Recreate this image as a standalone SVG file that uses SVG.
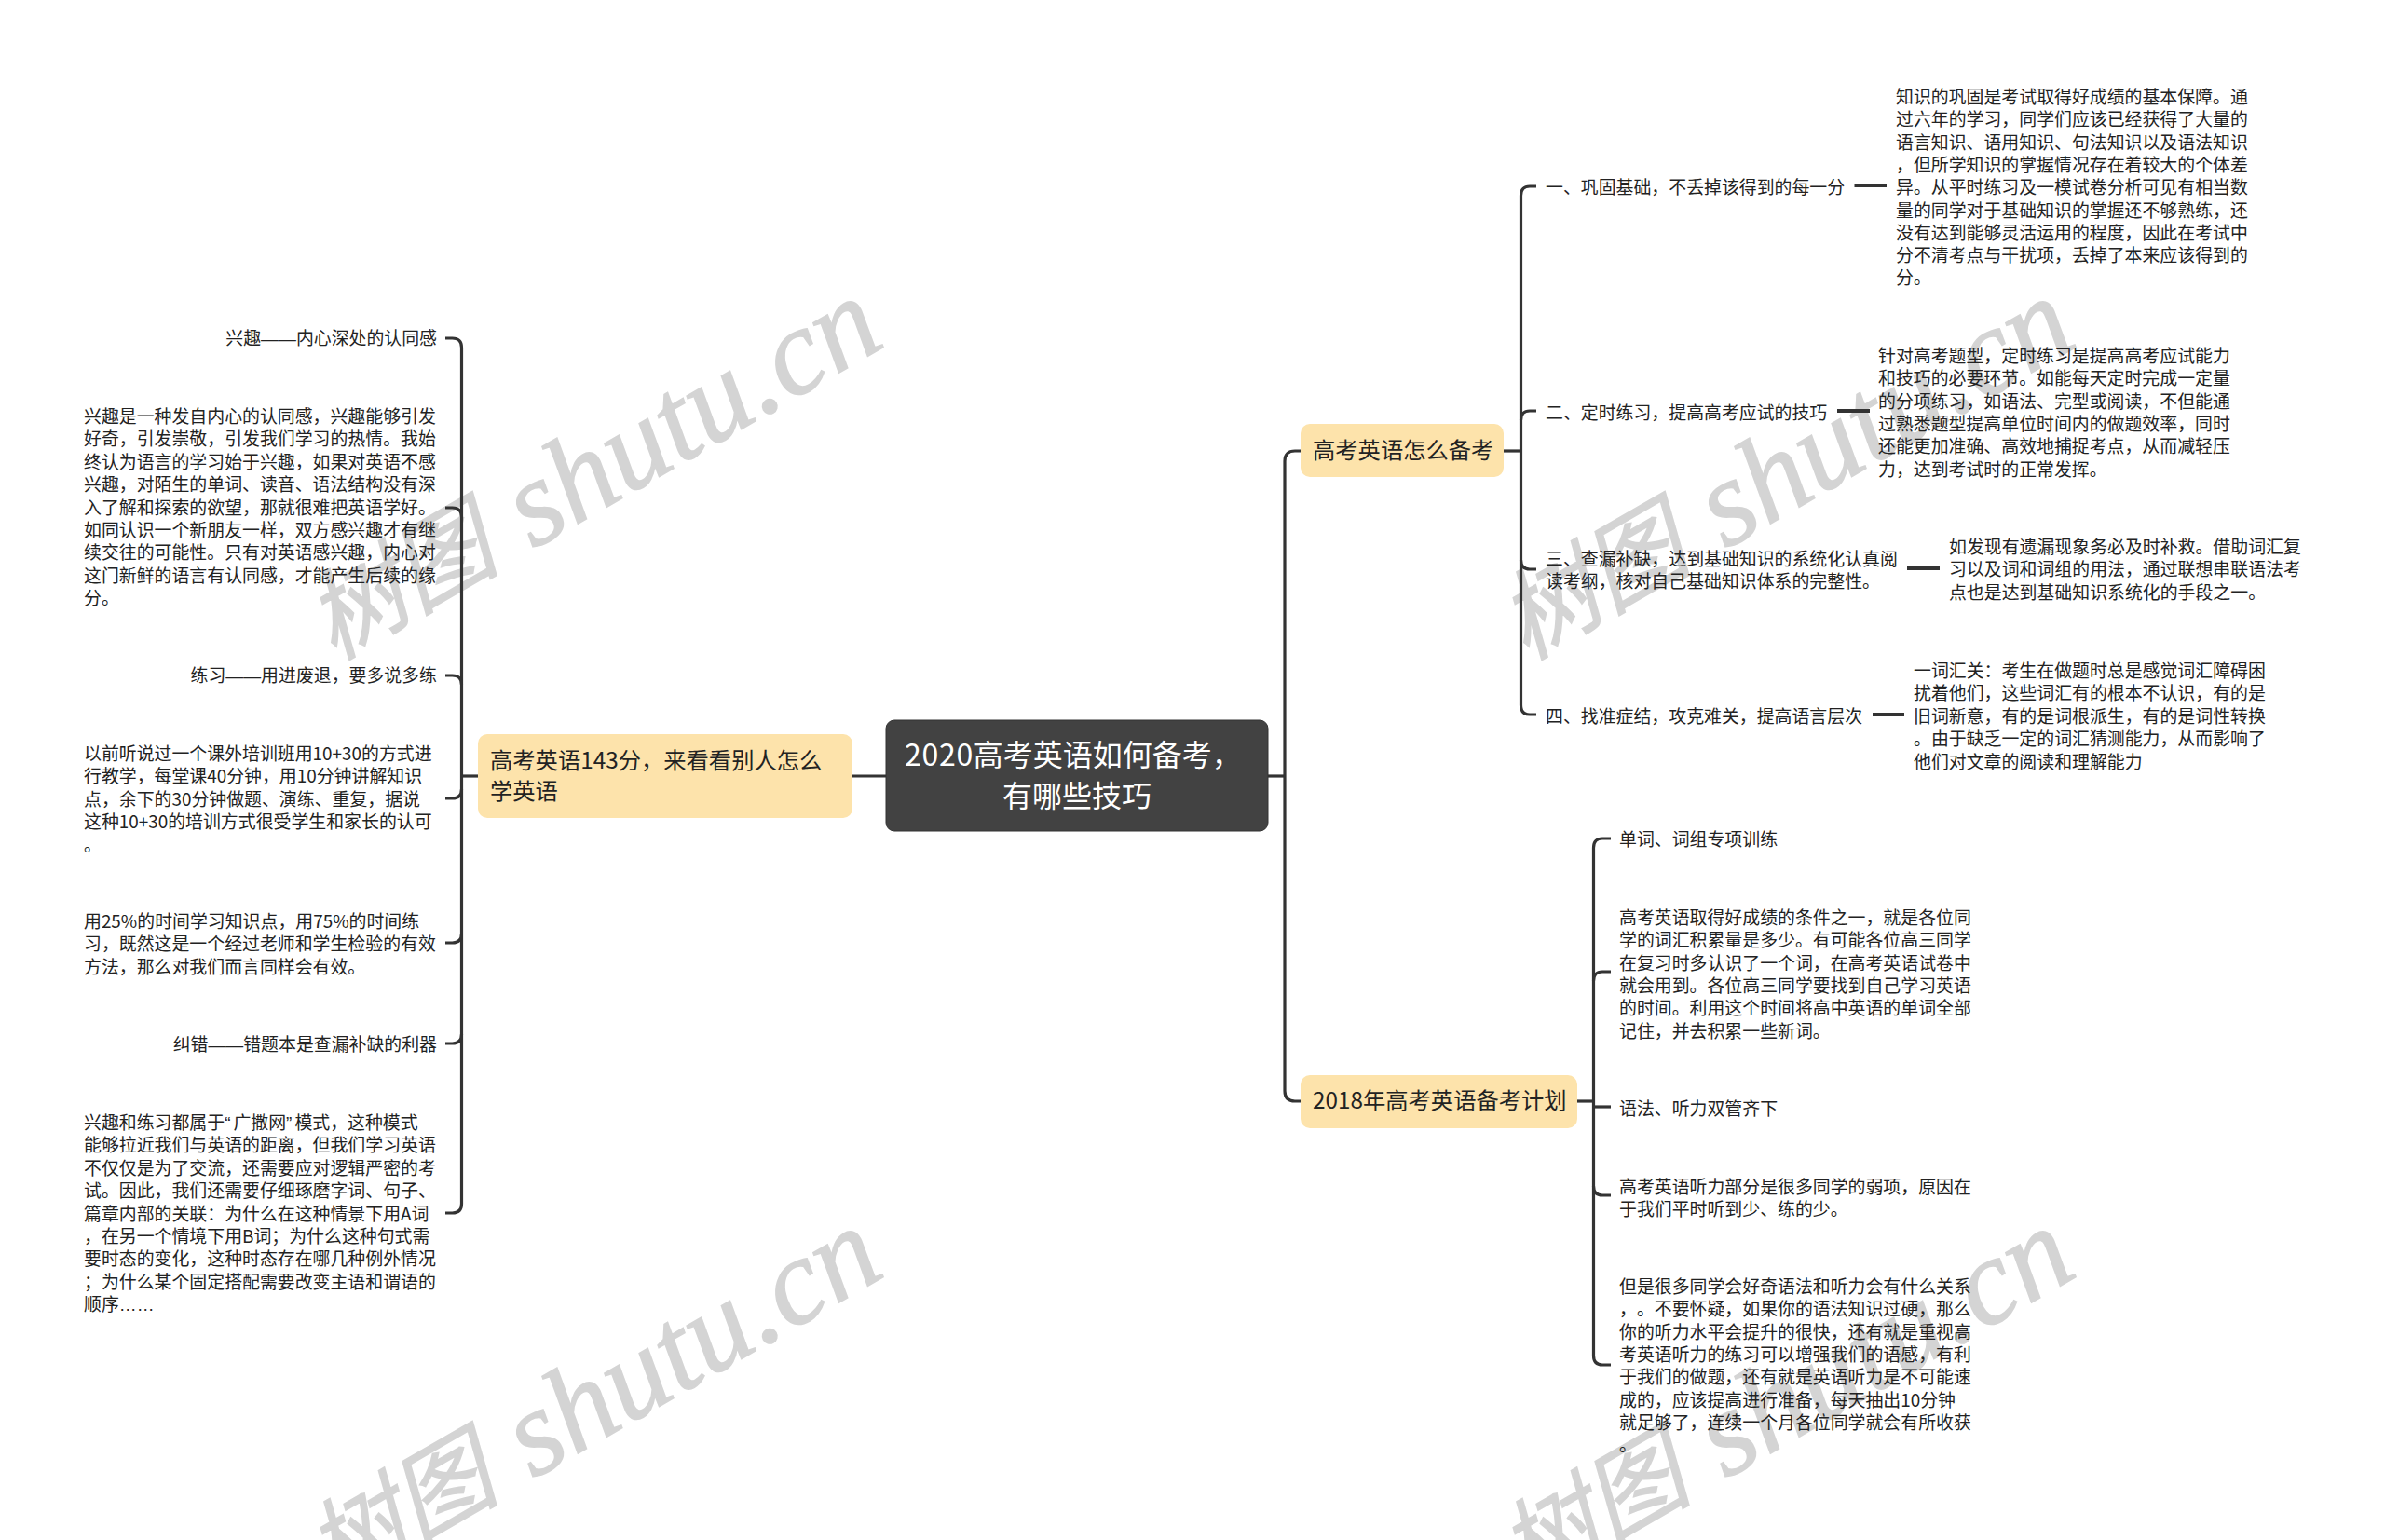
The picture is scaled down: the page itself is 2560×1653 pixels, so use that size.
<svg xmlns="http://www.w3.org/2000/svg" width="2560" height="1653" viewBox="0 0 2560 1653">
<style>
text{font-family:"Noto Sans CJK SC","Liberation Sans",sans-serif;font-size:18.9px;fill:#222;text-spacing-trim:space-all}
.r{text-anchor:end}
.la{font-family:"Liberation Sans",sans-serif}
.q{font-family:"Liberation Sans",sans-serif;letter-spacing:3px}
.wm{font-family:"Liberation Serif",serif;font-style:italic;font-size:131px;fill:#d4d4d4;stroke:#d4d4d4;stroke-width:1.5px}
.wc{font-family:"Noto Sans CJK SC",serif;font-style:italic;font-size:104px;fill:#d4d4d4;stroke:#d4d4d4;stroke-width:1.5px}
.b{font-size:24.3px;fill:#222}
.root{font-size:32px;fill:#fff}
.c{fill:none;stroke:#333;stroke-width:3.2}
.t{fill:none;stroke:#333;stroke-width:4}
.bn{fill:#fde3ab}
</style>
<defs>
<g id="mark">
<text class="wc" transform="translate(358 709) rotate(-30)">树图</text>
<text class="wm" transform="translate(572 590) rotate(-30)">shutu.cn</text>
</g>
</defs>
<rect width="2560" height="1653" fill="#fff"/>
<g id="watermark">
<use href="#mark"/>
<use href="#mark" x="1280"/>
<use href="#mark" y="998"/>
<use href="#mark" x="1280" y="998"/>
</g>
<g id="connectors">
<path class="c" d="M915 833H951"/>
<path class="c" d="M1361 833H1379"/>
<path class="c" d="M1396 484H1390Q1379 484 1379 495V1171Q1379 1182 1390 1182H1396"/>
<path class="c" d="M478 363H485.500Q495.500 363 495.500 373V1292Q495.500 1302 485.500 1302H478"/>
<path class="c" d="M478 545H485.500Q495.500 545 495.500 555"/>
<path class="c" d="M478 725H485.500Q495.500 725 495.500 735"/>
<path class="c" d="M495.500 847Q495.500 857 485.500 857H478"/>
<path class="c" d="M495.500 1002Q495.500 1012 485.500 1012H478"/>
<path class="c" d="M495.500 1110Q495.500 1120 485.500 1120H478"/>
<path class="c" d="M495.500 833H513"/>
<path class="c" d="M1649 200H1642Q1632.500 200 1632.500 210V757Q1632.500 767 1642 767H1649"/>
<path class="c" d="M1649 441H1642Q1632.500 441 1632.500 451"/>
<path class="c" d="M1632.500 601Q1632.500 611 1642 611H1649"/>
<path class="c" d="M1614 484H1632.500"/>
<path class="c" d="M1729 900H1720Q1710.500 900 1710.500 910V1455Q1710.500 1465 1720 1465H1729"/>
<path class="c" d="M1729 1043H1720Q1710.500 1043 1710.500 1053"/>
<path class="c" d="M1710.500 1273Q1710.500 1283 1720 1283H1729"/>
<path class="c" d="M1693 1182H1710.500"/>
<path class="c" d="M1710.500 1188H1729"/>
<path class="t" d="M1990.500 199H2025"/>
<path class="t" d="M1972 441H2007"/>
<path class="t" d="M2047 610H2082"/>
<path class="t" d="M2010 767H2044"/>
</g>
<g id="root"><rect x="951" y="773" width="410" height="119" rx="9" fill="#424242" stroke="#333" stroke-width="1"/>
<text class="root" x="971" y="822"><tspan letter-spacing="0.7">2020</tspan>高考英语如何备考，</text><text class="root" x="1156" y="866" text-anchor="middle">有哪些技巧</text></g>
<g id="left-branch"><rect class="bn" x="513" y="788" width="402" height="90" rx="10"/>
<text class="b" x="526" y="825">高考英语143分，来看看别人怎么</text><text class="b" x="526" y="858">学英语</text></g>
<g id="top-branch"><rect class="bn" x="1396" y="455" width="218" height="57" rx="10"/>
<text class="b" x="1409" y="492">高考英语怎么备考</text></g>
<g id="bottom-branch"><rect class="bn" x="1396" y="1154" width="297" height="57" rx="10"/>
<text class="b" x="1409" y="1190">2018年高考英语备考计划</text></g>
<g id="l1"><text class="r" x="469" y="370">兴趣<tspan class="la">——</tspan>内心深处的认同感</text></g>
<g id="l2"><text x="90" y="454">兴趣是一种发自内心的认同感，兴趣能够引发</text><text x="90" y="478.400">好奇，引发崇敬，引发我们学习的热情。我始</text><text x="90" y="502.800">终认为语言的学习始于兴趣，如果对英语不感</text><text x="90" y="527.200">兴趣，对陌生的单词、读音、语法结构没有深</text><text x="90" y="551.600">入了解和探索的欲望，那就很难把英语学好。</text><text x="90" y="576">如同认识一个新朋友一样，双方感兴趣才有继</text><text x="90" y="600.400">续交往的可能性。只有对英语感兴趣，内心对</text><text x="90" y="624.800">这门新鲜的语言有认同感，才能产生后续的缘</text><text x="90" y="649.200">分。</text></g>
<g id="l3"><text class="r" x="469" y="732">练习<tspan class="la">——</tspan>用进废退，要多说多练</text></g>
<g id="l4"><text x="90" y="816">以前听说过一个课外培训班用10+30的方式进</text><text x="90" y="840.400">行教学，每堂课40分钟，用10分钟讲解知识</text><text x="90" y="864.800">点，余下的30分钟做题、演练、重复，据说</text><text x="90" y="889.200">这种10+30的培训方式很受学生和家长的认可</text><text x="90" y="913.600">。</text></g>
<g id="l5"><text x="90" y="996">用25%的时间学习知识点，用75%的时间练</text><text x="90" y="1020.400">习，既然这是一个经过老师和学生检验的有效</text><text x="90" y="1044.800">方法，那么对我们而言同样会有效。</text></g>
<g id="l6"><text class="r" x="469" y="1128">纠错<tspan class="la">——</tspan>错题本是查漏补缺的利器</text></g>
<g id="l7"><text x="90" y="1212">兴趣和练习都属于<tspan class="q">“</tspan>广撒网<tspan class="q">”</tspan>模式，这种模式</text><text x="90" y="1236.400">能够拉近我们与英语的距离，但我们学习英语</text><text x="90" y="1260.800">不仅仅是为了交流，还需要应对逻辑严密的考</text><text x="90" y="1285.200">试。因此，我们还需要仔细琢磨字词、句子、</text><text x="90" y="1309.600">篇章内部的关联：为什么在这种情景下用A词</text><text x="90" y="1334">，在另一个情境下用B词；为什么这种句式需</text><text x="90" y="1358.400">要时态的变化，这种时态存在哪几种例外情况</text><text x="90" y="1382.800">；为什么某个固定搭配需要改变主语和谓语的</text><text x="90" y="1407.200">顺序<tspan class="la">……</tspan></text></g>
<g id="t1"><text x="1659" y="208">一、巩固基础，不丢掉该得到的每一分</text></g>
<g id="t1d"><text x="2035" y="111">知识的巩固是考试取得好成绩的基本保障。通</text><text x="2035" y="135.300">过六年的学习，同学们应该已经获得了大量的</text><text x="2035" y="159.600">语言知识、语用知识、句法知识以及语法知识</text><text x="2035" y="183.900">，但所学知识的掌握情况存在着较大的个体差</text><text x="2035" y="208.200">异。从平时练习及一模试卷分析可见有相当数</text><text x="2035" y="232.500">量的同学对于基础知识的掌握还不够熟练，还</text><text x="2035" y="256.800">没有达到能够灵活运用的程度，因此在考试中</text><text x="2035" y="281.100">分不清考点与干扰项，丢掉了本来应该得到的</text><text x="2035" y="305.400">分。</text></g>
<g id="t2"><text x="1659" y="450">二、定时练习，提高高考应试的技巧</text></g>
<g id="t2d"><text x="2016" y="389">针对高考题型，定时练习是提高高考应试能力</text><text x="2016" y="413.300">和技巧的必要环节。如能每天定时完成一定量</text><text x="2016" y="437.600">的分项练习，如语法、完型或阅读，不但能通</text><text x="2016" y="461.900">过熟悉题型提高单位时间内的做题效率，同时</text><text x="2016" y="486.200">还能更加准确、高效地捕捉考点，从而减轻压</text><text x="2016" y="510.500">力，达到考试时的正常发挥。</text></g>
<g id="t3"><text x="1659" y="607">三、查漏补缺，达到基础知识的系统化认真阅</text><text x="1659" y="631.400">读考纲，核对自己基础知识体系的完整性。</text></g>
<g id="t3d"><text x="2092" y="594">如发现有遗漏现象务必及时补救。借助词汇复</text><text x="2092" y="618.400">习以及词和词组的用法，通过联想串联语法考</text><text x="2092" y="642.800">点也是达到基础知识系统化的手段之一。</text></g>
<g id="t4"><text x="1659" y="776">四、找准症结，攻克难关，提高语言层次</text></g>
<g id="t4d"><text x="2054" y="727">一词汇关：考生在做题时总是感觉词汇障碍困</text><text x="2054" y="751.400">扰着他们，这些词汇有的根本不认识，有的是</text><text x="2054" y="775.800">旧词新意，有的是词根派生，有的是词性转换</text><text x="2054" y="800.200">。由于缺乏一定的词汇猜测能力，从而影响了</text><text x="2054" y="824.600">他们对文章的阅读和理解能力</text></g>
<g id="b1"><text x="1738" y="908">单词、词组专项训练</text></g>
<g id="b2"><text x="1738" y="992">高考英语取得好成绩的条件之一，就是各位同</text><text x="1738" y="1016.300">学的词汇积累量是多少。有可能各位高三同学</text><text x="1738" y="1040.600">在复习时多认识了一个词，在高考英语试卷中</text><text x="1738" y="1064.900">就会用到。各位高三同学要找到自己学习英语</text><text x="1738" y="1089.200">的时间。利用这个时间将高中英语的单词全部</text><text x="1738" y="1113.500">记住，并去积累一些新词。</text></g>
<g id="b3"><text x="1738" y="1196.500">语法、听力双管齐下</text></g>
<g id="b4"><text x="1738" y="1281">高考英语听力部分是很多同学的弱项，原因在</text><text x="1738" y="1305.300">于我们平时听到少、练的少。</text></g>
<g id="b5"><text x="1738" y="1388">但是很多同学会好奇语法和听力会有什么关系</text><text x="1738" y="1412.300">，。不要怀疑，如果你的语法知识过硬，那么</text><text x="1738" y="1436.600">你的听力水平会提升的很快，还有就是重视高</text><text x="1738" y="1460.900">考英语听力的练习可以增强我们的语感，有利</text><text x="1738" y="1485.200">于我们的做题，还有就是英语听力是不可能速</text><text x="1738" y="1509.500">成的，应该提高进行准备，每天抽出10分钟</text><text x="1738" y="1533.800">就足够了，连续一个月各位同学就会有所收获</text><text x="1738" y="1558.100">。</text></g>
</svg>
